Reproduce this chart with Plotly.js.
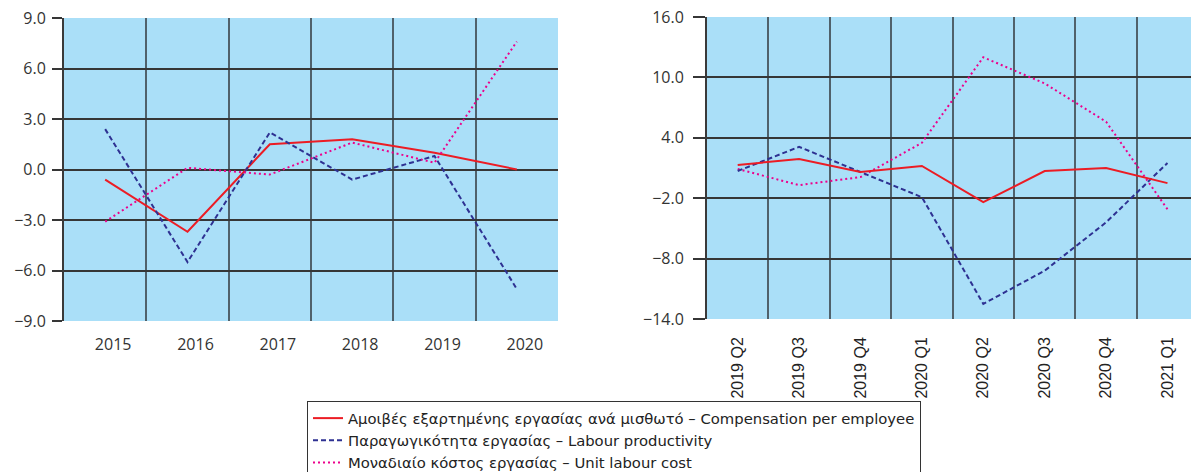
<!DOCTYPE html>
<html>
<head>
<meta charset="utf-8">
<script src="https://cdn.plot.ly/plotly-3.0.1.min.js"></script>
<style>
html,body{margin:0;padding:0;background:#fff;overflow:hidden;}
#chart{width:1191px;height:472px;}
</style>
</head>
<body>
<div id="chart"></div>
<script>
// ---- Data (annual, left panel) ----
var years = ['2015', '2016', '2017', '2018', '2019', '2020'];
var compAnnual = [-0.6, -3.7, 1.5, 1.8, 1.0, 0.0];
var prodAnnual = [2.4, -5.5, 2.2, -0.6, 0.8, -7.1];
var ulcAnnual  = [-3.1, 0.1, -0.3, 1.6, 0.4, 7.6];

// ---- Data (quarterly, right panel) ----
var quarters = ['2019 Q2', '2019 Q3', '2019 Q4', '2020 Q1', '2020 Q2', '2020 Q3', '2020 Q4', '2021 Q1'];
var compQ = [1.3, 1.9, 0.6, 1.2, -2.4, 0.7, 1.0, -0.5];
var prodQ = [0.7, 3.1, 0.6, -1.9, -12.5, -9.2, -4.4, 1.5];
var ulcQ  = [0.9, -0.7, 0.1, 3.5, 12.0, 9.4, 5.6, -3.1];

// ---- Series names ----
var nameComp = 'Αμοιβές εξαρτημένης εργασίας ανά μισθωτό – Compensation per employee';
var nameProd = 'Παραγωγικότητα εργασίας – Labour productivity';
var nameUlc  = 'Μοναδιαίο κόστος εργασίας – Unit labour cost';

var RED = '#ec1c24', BLUE = '#2e3192', PINK = '#ec008c';
var styleComp = {color: RED, width: 2};
var styleProd = {color: BLUE, width: 2, dash: '5px,3px'};
var styleUlc  = {color: PINK, width: 2, dash: '2px,3px'};

var traces = [
  {x: years, y: compAnnual, name: nameComp, type: 'scatter', mode: 'lines', line: styleComp, xaxis: 'x', yaxis: 'y'},
  {x: years, y: prodAnnual, name: nameProd, type: 'scatter', mode: 'lines', line: styleProd, xaxis: 'x', yaxis: 'y'},
  {x: years, y: ulcAnnual,  name: nameUlc,  type: 'scatter', mode: 'lines', line: styleUlc,  xaxis: 'x', yaxis: 'y'},
  {x: quarters, y: ulcQ,  name: nameUlc,  type: 'scatter', mode: 'lines', line: styleUlc,  xaxis: 'x2', yaxis: 'y2', showlegend: false},
  {x: quarters, y: prodQ, name: nameProd, type: 'scatter', mode: 'lines', line: styleProd, xaxis: 'x2', yaxis: 'y2', showlegend: false},
  {x: quarters, y: compQ, name: nameComp, type: 'scatter', mode: 'lines', line: styleComp, xaxis: 'x2', yaxis: 'y2', showlegend: false}
];

var W = 1191, H = 472;
var HGRID = '#363636';
var VGRID = 'rgba(50,55,60,0.75)';
var tickFont = {family: '"Open Sans", sans-serif', size: 16, color: '#333333'};

var layout = {
  width: W, height: H,
  margin: {l: 0, r: 0, t: 0, b: 0, autoexpand: false},
  paper_bgcolor: '#ffffff',
  plot_bgcolor: '#aadff8',
  showlegend: true,
  legend: {
    x: 307 / W, y: 1 - 401 / H, xanchor: 'left', yanchor: 'top',
    bgcolor: '#ffffff', bordercolor: '#333333', borderwidth: 1,
    font: {family: '"DejaVu Sans", sans-serif', size: 14.8, color: '#222222'},
    traceorder: 'normal', tracegroupgap: 0
  },
  xaxis: {
    type: 'category', domain: [64 / W, 558 / W], range: [-0.5, 5.5], anchor: 'y',
    tickson: 'boundaries', showgrid: true, gridcolor: VGRID, gridwidth: 2,
    ticks: '', ticklabelshift: 8, ticklabelstandoff: 12,
    tickfont: tickFont, showline: false, zeroline: false, fixedrange: true
  },
  yaxis: {
    domain: [1 - 321 / H, 1 - 18 / H], range: [-9, 9], tick0: -9, dtick: 3, tickformat: '.1f',
    anchor: 'x', showgrid: true, gridcolor: HGRID, gridwidth: 2,
    ticks: 'outside', ticklen: 10, tickcolor: HGRID, tickwidth: 2, ticklabelstandoff: 3,
    showline: true, linecolor: '#3a3a3a', linewidth: 2, zeroline: false,
    tickfont: tickFont, fixedrange: true
  },
  xaxis2: {
    type: 'category', domain: [707 / W, 1], range: [-0.5, 7.383], anchor: 'y2',
    tickson: 'boundaries', showgrid: true, gridcolor: VGRID, gridwidth: 2,
    ticks: '', tickangle: -90, ticklabelstandoff: 14,
    tickfont: {family: '"Liberation Sans", Arial, sans-serif', size: 16, color: '#222222'},
    showline: false, zeroline: false, fixedrange: true
  },
  yaxis2: {
    domain: [1 - 319 / H, 1 - 17 / H], range: [-14, 16], tick0: -14, dtick: 6, tickformat: '.1f',
    anchor: 'x2', showgrid: true, gridcolor: HGRID, gridwidth: 2,
    ticks: 'outside', ticklen: 12, tickcolor: HGRID, tickwidth: 2, ticklabelstandoff: 6,
    showline: true, linecolor: '#3a3a3a', linewidth: 2, zeroline: false,
    tickfont: tickFont, fixedrange: true
  }
};

Plotly.newPlot('chart', traces, layout, {staticPlot: true, displayModeBar: false});
</script>
</body>
</html>
